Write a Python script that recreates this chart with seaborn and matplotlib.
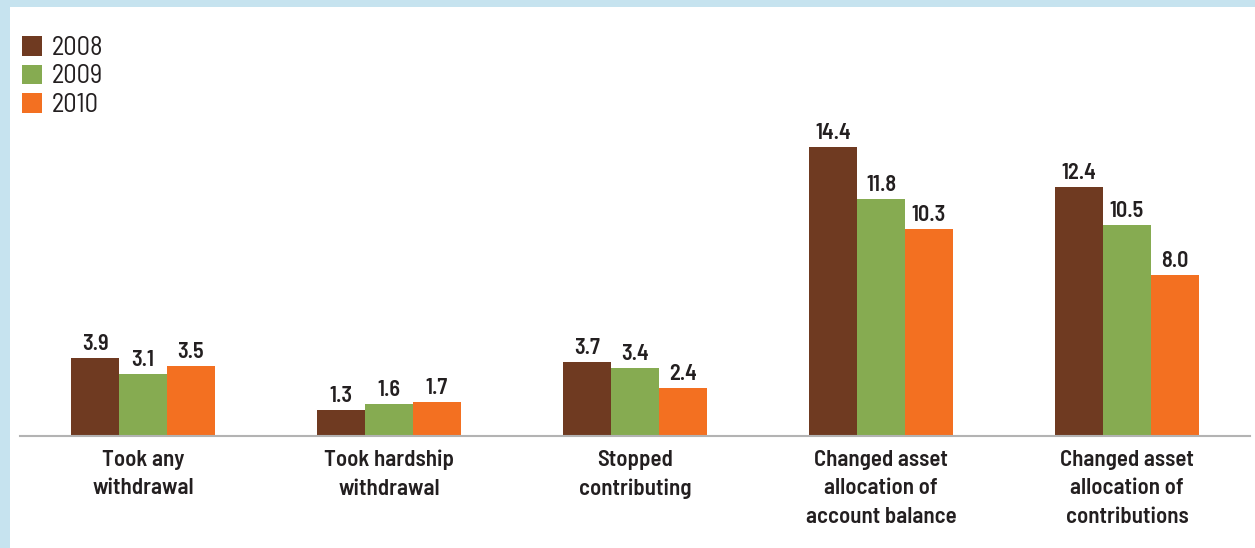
import matplotlib
matplotlib.use("Agg")
import matplotlib.pyplot as plt
import seaborn as sns
import pandas as pd
from matplotlib.patches import Rectangle

categories = ["Took any\nwithdrawal", "Took hardship\nwithdrawal", "Stopped\ncontributing",
              "Changed asset\nallocation of\naccount balance",
              "Changed asset\nallocation of\ncontributions"]
years = ["2008", "2009", "2010"]
values_2008 = [3.9, 1.3, 3.7, 14.4, 12.4]
values_2009 = [3.1, 1.6, 3.4, 11.8, 10.5]
values_2010 = [3.5, 1.7, 2.4, 10.3, 8.0]
colors = ["#6f3a21", "#86ab51", "#f37021"]

rows = []
for yr, vals in zip(years, [values_2008, values_2009, values_2010]):
    for c, v in zip(categories, vals):
        rows.append({"category": c, "year": yr, "value": v})
df = pd.DataFrame(rows)

sns.set_theme(style="white")
plt.rcParams['font.family'] = ['Barlow Semi Condensed', 'DejaVu Sans']
TXT = "#231f20"

W, H = 1255, 548
fig = plt.figure(figsize=(W / 100, H / 100), dpi=100)
fig.patch.set_facecolor("#c6e3ef")
fig.add_artist(Rectangle((9.5 / W, 0), 1, 1 - 7 / H, transform=fig.transFigure,
                         facecolor="white", edgecolor="none", zorder=-1))

ax = fig.add_axes([20 / W, 112 / H, 1230 / W, 426 / H])
ax.set_facecolor("none")

sns.barplot(data=df, x="category", y="value", hue="year", palette=colors,
            width=0.585, gap=0, errorbar=None, saturation=1, linewidth=0, ax=ax,
            order=categories, hue_order=years)

for cont in ax.containers:
    ax.bar_label(cont, fmt="%.1f", padding=3, fontsize=16, fontweight="semibold", color=TXT)

ax.set_xlim(-0.5, 4.5)
ax.set_ylim(0, 21.22)
ax.set_yticks([])
ax.set_xlabel("")
ax.set_ylabel("")
for s in ["top", "left", "right"]:
    ax.spines[s].set_visible(False)
ax.spines["bottom"].set_color("#b3b3b3")
ax.spines["bottom"].set_linewidth(1.5)
ax.tick_params(axis="x", length=0, pad=10, labelsize=16.5, labelcolor=TXT)
for lab in ax.get_xticklabels():
    lab.set_fontweight("semibold")
    lab.set_linespacing(1.52)

sns.move_legend(ax, "upper left", bbox_to_anchor=(22 / W, 1 - 36 / H),
                bbox_transform=fig.transFigure, frameon=False, title=None,
                fontsize=19, handlelength=0.76, handleheight=0.76,
                handletextpad=0.38, labelspacing=0.17, borderpad=0, borderaxespad=0)
for t in ax.get_legend().get_texts():
    t.set_color(TXT)
    t.set_fontweight("normal")

fig.savefig("out.png", dpi=100, facecolor=fig.get_facecolor())
